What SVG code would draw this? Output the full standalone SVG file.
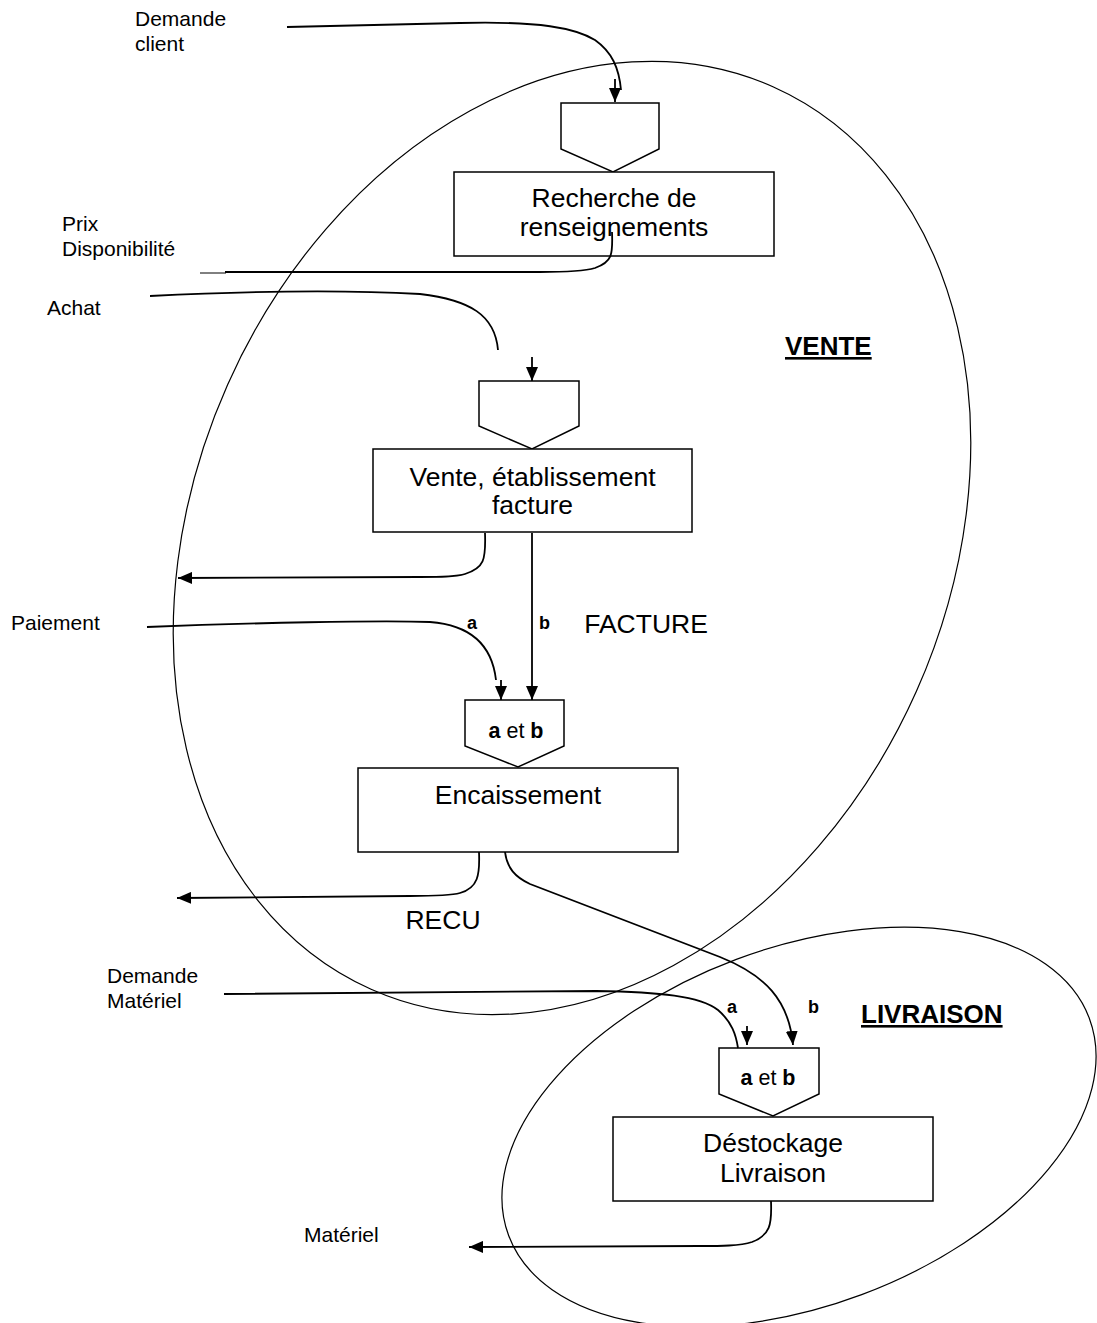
<svg xmlns="http://www.w3.org/2000/svg" width="1097" height="1323" viewBox="0 0 1097 1323">
<style>
text{font-family:"Liberation Sans",Arial,sans-serif;fill:#000}
.main{font-size:26.5px;text-anchor:middle}
.lbl{font-size:21px}
.ab{font-size:18px;font-weight:bold}
.abc{font-size:21.5px;text-anchor:middle}
.big{font-size:26px;font-weight:bold;text-decoration:underline}
.box{fill:#fff;stroke:#000;stroke-width:1.5}
.zone{fill:none;stroke:#000;stroke-width:1.2}
.con{fill:none;stroke:#000;stroke-width:1.8}
</style>
<defs>
<marker id="arr" markerUnits="userSpaceOnUse" markerWidth="14" markerHeight="12" refX="14" refY="6" orient="auto">
<path d="M0,0 L14,6 L0,12 z" fill="#000"/>
</marker>
</defs>
<rect width="1097" height="1323" fill="#fff"/>
<g id="zone-vente">
<ellipse class="zone" cx="572" cy="538" rx="377" ry="494" transform="rotate(24 572 538)"/>
<text class="big" x="785" y="355">VENTE</text>
</g>
<g id="zone-livraison">
<ellipse class="zone" cx="799" cy="1127" rx="310" ry="179" transform="rotate(-20.5 799 1127)"/>
<text class="big" x="861" y="1023">LIVRAISON</text>
</g>
<g id="node-recherche">
<polygon class="box" points="561,103 659,103 659,149 613,172 561,149"/>
<rect class="box" x="454" y="172" width="320" height="84"/>
<text class="main" x="614" y="207">Recherche de</text>
<text class="main" x="614" y="236">renseignements</text>
</g>
<g id="node-vente">
<polygon class="box" points="479,381 579,381 579,426 532,449 479,426"/>
<rect class="box" x="373" y="449" width="319" height="83"/>
<text class="main" x="532.5" y="486">Vente, établissement</text>
<text class="main" x="532.5" y="514">facture</text>
</g>
<g id="node-encaissement">
<polygon class="box" points="465,700 564,700 564,746 518,767 465,746"/>
<text class="abc" x="516" y="738"><tspan font-weight="bold">a</tspan> et <tspan font-weight="bold">b</tspan></text>
<rect class="box" x="358" y="768" width="320" height="84"/>
<text class="main" x="518" y="804">Encaissement</text>
</g>
<g id="node-destockage">
<polygon class="box" points="719,1048 819,1048 819,1094 773,1116 719,1094"/>
<text class="abc" x="768" y="1085"><tspan font-weight="bold">a</tspan> et <tspan font-weight="bold">b</tspan></text>
<rect class="box" x="613" y="1117" width="320" height="84"/>
<text class="main" x="773" y="1152">Déstockage</text>
<text class="main" x="773" y="1182">Livraison</text>
</g>
<g id="connectors">
<path class="con" d="M287,27 L460,23 C540,21 575,28 595,40 C612,52 619,68 621,90"/>
<path class="con" d="M615,79 L615,102" marker-end="url(#arr)"/>
<path class="con" d="M612,232 C613,255 612,262 595,268 C585,271 570,272 540,272 L225,272"/>
<path fill="none" stroke="#000" stroke-width="1" d="M200,273 L226,273"/>
<path class="con" d="M150,296 C250,291 350,290 420,294 C470,300 495,315 498,350"/>
<path class="con" d="M532,357 L532,381" marker-end="url(#arr)"/>
<path class="con" d="M485,533 C486,560 484,568 465,574 C455,577 440,577 420,577 L178,578" marker-end="url(#arr)"/>
<path class="con" d="M532,533 L532,700" marker-end="url(#arr)"/>
<path class="con" d="M147,627 C250,623 380,620 430,622 C470,625 492,645 496,680"/>
<path class="con" d="M501,680 L501,700" marker-end="url(#arr)"/>
<path class="con" d="M479,852 C480,875 478,888 460,893 C450,896 430,896 410,896 L177,898" marker-end="url(#arr)"/>
<path class="con" d="M505,852 C507,868 515,877 530,884 L720,957 C765,975 789,1000 793,1045" marker-end="url(#arr)"/>
<path class="con" d="M224,994 L596,991 C660,992 700,996 718,1010 C732,1022 736,1035 738,1048"/>
<path class="con" d="M747,1026 L747,1045" marker-end="url(#arr)"/>
<path class="con" d="M771,1201 C772,1225 770,1235 752,1242 C740,1246 720,1246 700,1246 L469,1247" marker-end="url(#arr)"/>
</g>
<g id="labels">
<text class="lbl" x="135" y="26">Demande</text>
<text class="lbl" x="135" y="51">client</text>
<text class="lbl" x="62" y="231">Prix</text>
<text class="lbl" x="62" y="256">Disponibilité</text>
<text class="lbl" x="47" y="315">Achat</text>
<text class="lbl" x="11" y="630">Paiement</text>
<text class="lbl" x="107" y="983">Demande</text>
<text class="lbl" x="107" y="1008">Matériel</text>
<text class="lbl" x="304" y="1242">Matériel</text>
<text class="ab" x="467" y="629">a</text>
<text class="ab" x="539" y="629">b</text>
<text class="ab" x="727" y="1013">a</text>
<text class="ab" x="808" y="1013">b</text>
<text class="main" x="646" y="633">FACTURE</text>
<text class="main" x="443" y="929">RECU</text>
</g>
</svg>
